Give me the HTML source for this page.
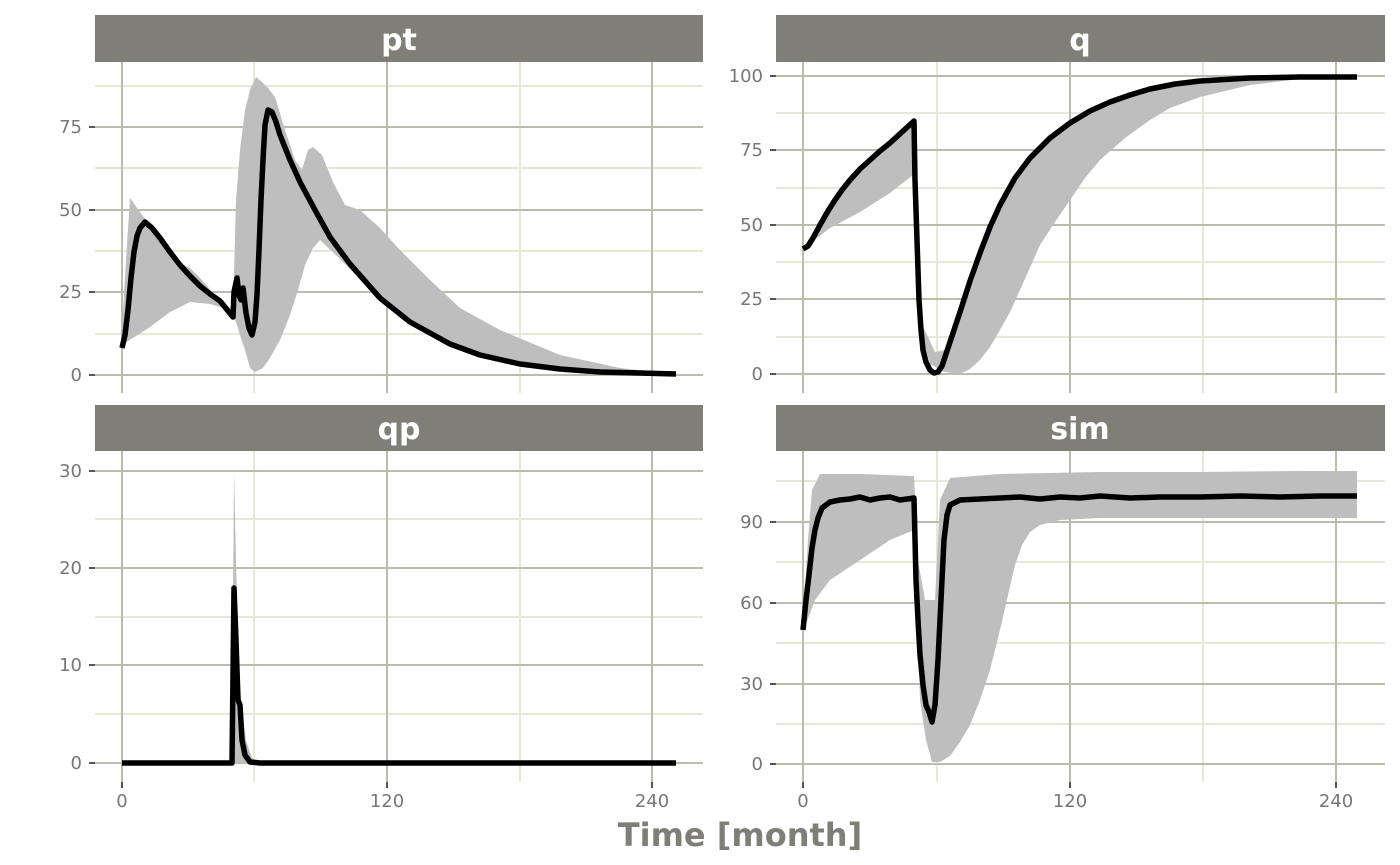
<!DOCTYPE html>
<html><head><style>body{margin:0;background:#fff}svg{display:block}</style></head><body>
<svg width="1400" height="865" xmlns="http://www.w3.org/2000/svg" font-family="DejaVu Sans, Liberation Sans, sans-serif">
<!-- PANEL pt -->
<g>
<g stroke="#e6e8d8" stroke-width="2">
<line x1="95" x2="703" y1="334" y2="334"/><line x1="95" x2="703" y1="251" y2="251"/><line x1="95" x2="703" y1="168" y2="168"/><line x1="95" x2="703" y1="86" y2="86"/>
<line x1="254" x2="254" y1="62" y2="393"/><line x1="520" x2="520" y1="62" y2="393"/>
</g>
<g stroke="#bcbcae" stroke-width="2">
<line x1="95" x2="703" y1="375" y2="375"/><line x1="95" x2="703" y1="292" y2="292"/><line x1="95" x2="703" y1="210" y2="210"/><line x1="95" x2="703" y1="127" y2="127"/>
<line x1="122" x2="122" y1="62" y2="393"/><line x1="387" x2="387" y1="62" y2="393"/><line x1="652" x2="652" y1="62" y2="393"/>
</g>
<g stroke="#555" stroke-width="2"><line x1="89" x2="95" y1="375" y2="375"/><line x1="89" x2="95" y1="292" y2="292"/><line x1="89" x2="95" y1="210" y2="210"/><line x1="89" x2="95" y1="127" y2="127"/></g>
<path fill="#bebebe" d="M122,330 L126,260 L130,198 L140,212 L150,226 L160,238 L170,252 L180,263 L190,268 L200,278 L215,295 L233,312 L236,200 L240,150 L245,110 L250,90 L256,77 L262,82 L268,88 L275,97 L285,130 L295,160 L302,170 L308,150 L313,147 L322,155 L333,182 L345,205 L360,210 L380,228 L400,250 L430,280 L460,308 L500,330 L560,355 L620,368 L676,374 L676,375 L600,373 L500,361 L450,345 L410,322 L380,299 L340,259 L320,240 L313,248 L305,265 L298,290 L290,315 L280,340 L270,358 L263,368 L255,372 L250,368 L245,350 L240,335 L236,322 L230,310 L210,304 L190,302 L170,312 L150,327 L125,343 Z"/>
<path fill="none" stroke="#000" stroke-width="5.5" stroke-linejoin="round" d="M122,348 L125,335 L128,310 L131,278 L134,252 L137,236 L140,228 L145,222 L152,228 L160,238 L170,252 L180,265 L190,276 L200,286 L210,294 L220,301 L233,317 L234,292 L237,278 L239,295 L241,300 L243,288 L246,313 L249,328 L252,335 L255,322 L257,295 L259,250 L261,200 L263,160 L265,125 L268,110 L272,112 L276,122 L280,135 L290,160 L300,182 L315,210 L330,237 L350,264 L380,298 L410,322 L450,344 L480,355 L520,364 L560,369 L600,372 L640,373 L676,374"/>
<g fill="#777" font-size="18" text-anchor="end"><text x="82" y="381">0</text><text x="82" y="298">25</text><text x="82" y="216">50</text><text x="82" y="133">75</text></g>
<rect x="95" y="15" width="608" height="47" fill="#807f77"/>
<text x="399" y="50" fill="#fff" font-size="30" font-weight="bold" text-anchor="middle">pt</text>
</g>
<!-- PANEL q -->
<g>
<g stroke="#e6e8d8" stroke-width="2">
<line x1="776" x2="1385" y1="337" y2="337"/><line x1="776" x2="1385" y1="262" y2="262"/><line x1="776" x2="1385" y1="188" y2="188"/><line x1="776" x2="1385" y1="113" y2="113"/>
<line x1="937" x2="937" y1="62" y2="393"/><line x1="1203" x2="1203" y1="62" y2="393"/>
</g>
<g stroke="#bcbcae" stroke-width="2">
<line x1="776" x2="1385" y1="374" y2="374"/><line x1="776" x2="1385" y1="299" y2="299"/><line x1="776" x2="1385" y1="225" y2="225"/><line x1="776" x2="1385" y1="150" y2="150"/><line x1="776" x2="1385" y1="76" y2="76"/>
<line x1="803" x2="803" y1="62" y2="393"/><line x1="1070" x2="1070" y1="62" y2="393"/><line x1="1336" x2="1336" y1="62" y2="393"/>
</g>
<g stroke="#555" stroke-width="2"><line x1="770" x2="776" y1="374" y2="374"/><line x1="770" x2="776" y1="299" y2="299"/><line x1="770" x2="776" y1="225" y2="225"/><line x1="770" x2="776" y1="150" y2="150"/><line x1="770" x2="776" y1="76" y2="76"/></g>
<path fill="#bebebe" d="M803,249 L810,243 L820,225 L835,200 L850,180 L870,160 L890,143 L914,121 L915,180 L917,240 L920,320 L935,352 L945,350 L960,310 L980,250 L1000,200 L1030,155 L1070,122 L1110,100 L1150,88 L1200,80 L1250,78 L1300,77 L1357,77 L1300,79 L1250,85 L1200,97 L1170,108 L1150,120 L1125,138 L1100,160 L1085,178 L1070,200 L1055,222 L1040,245 L1020,290 L1010,312 L1000,330 L990,347 L980,360 L970,369 L960,374 L945,372 L930,364 L920,330 L913,175 L890,193 L860,212 L830,228 Z"/>
<path fill="none" stroke="#000" stroke-width="5.5" stroke-linejoin="round" d="M803,249 L808,246 L813,238 L820,225 L828,211 L835,200 L842,190 L850,180 L860,169 L870,160 L880,151 L890,143 L902,132 L914,121 L915,180 L917,240 L919,300 L921,330 L923,350 L926,362 L930,370 L934,373 L938,372 L942,366 L946,354 L952,336 L960,312 L970,281 L980,253 L990,227 L1000,205 L1015,178 L1030,158 L1050,138 L1070,123 L1090,111 L1110,102 L1130,95 L1150,89 L1175,84 L1200,81 L1250,78 L1300,77 L1357,77"/>
<g fill="#777" font-size="18" text-anchor="end"><text x="763" y="380">0</text><text x="763" y="305">25</text><text x="763" y="231">50</text><text x="763" y="156">75</text><text x="763" y="82">100</text></g>
<rect x="776" y="15" width="609" height="47" fill="#807f77"/>
<text x="1080" y="50" fill="#fff" font-size="30" font-weight="bold" text-anchor="middle">q</text>
</g>
<!-- PANEL qp -->
<g>
<g stroke="#e6e8d8" stroke-width="2">
<line x1="95" x2="703" y1="714" y2="714"/><line x1="95" x2="703" y1="617" y2="617"/><line x1="95" x2="703" y1="519" y2="519"/>
<line x1="254" x2="254" y1="451" y2="782"/><line x1="520" x2="520" y1="451" y2="782"/>
</g>
<g stroke="#bcbcae" stroke-width="2">
<line x1="95" x2="703" y1="763" y2="763"/><line x1="95" x2="703" y1="665" y2="665"/><line x1="95" x2="703" y1="568" y2="568"/><line x1="95" x2="703" y1="471" y2="471"/>
<line x1="122" x2="122" y1="451" y2="782"/><line x1="387" x2="387" y1="451" y2="782"/><line x1="652" x2="652" y1="451" y2="782"/>
</g>
<g stroke="#555" stroke-width="2"><line x1="89" x2="95" y1="763" y2="763"/><line x1="89" x2="95" y1="665" y2="665"/><line x1="89" x2="95" y1="568" y2="568"/><line x1="89" x2="95" y1="471" y2="471"/></g>
<path fill="#bebebe" d="M232,763 L233,600 L234,470 L236,560 L238,640 L241,700 L246,740 L252,758 L260,763 Z"/>
<path fill="none" stroke="#000" stroke-width="5.5" stroke-linejoin="round" d="M122,763 L232,763 L234,588 L236,640 L238,700 L240,705 L242,740 L245,755 L250,762 L260,763 L676,763"/>
<g fill="#777" font-size="18" text-anchor="end"><text x="82" y="769">0</text><text x="82" y="671">10</text><text x="82" y="574">20</text><text x="82" y="477">30</text></g>
<rect x="95" y="405" width="608" height="46" fill="#807f77"/>
<text x="399" y="439" fill="#fff" font-size="30" font-weight="bold" text-anchor="middle">qp</text>
<g fill="#777" font-size="18" text-anchor="middle"><text x="122" y="807">0</text><text x="387" y="807">120</text><text x="652" y="807">240</text></g>
<g stroke="#555" stroke-width="2"><line x1="122" x2="122" y1="782" y2="788"/><line x1="387" x2="387" y1="782" y2="788"/><line x1="652" x2="652" y1="782" y2="788"/></g>
</g>
<!-- PANEL sim -->
<g>
<g stroke="#e6e8d8" stroke-width="2">
<line x1="776" x2="1385" y1="724" y2="724"/><line x1="776" x2="1385" y1="643" y2="643"/><line x1="776" x2="1385" y1="562" y2="562"/><line x1="776" x2="1385" y1="481" y2="481"/>
<line x1="937" x2="937" y1="451" y2="782"/><line x1="1203" x2="1203" y1="451" y2="782"/>
</g>
<g stroke="#bcbcae" stroke-width="2">
<line x1="776" x2="1385" y1="764" y2="764"/><line x1="776" x2="1385" y1="684" y2="684"/><line x1="776" x2="1385" y1="603" y2="603"/><line x1="776" x2="1385" y1="522" y2="522"/>
<line x1="803" x2="803" y1="451" y2="782"/><line x1="1070" x2="1070" y1="451" y2="782"/><line x1="1336" x2="1336" y1="451" y2="782"/>
</g>
<g stroke="#555" stroke-width="2"><line x1="770" x2="776" y1="764" y2="764"/><line x1="770" x2="776" y1="684" y2="684"/><line x1="770" x2="776" y1="603" y2="603"/><line x1="770" x2="776" y1="522" y2="522"/></g>
<path fill="#bebebe" d="M803,620 L808,540 L812,490 L820,474 L860,474 L914,476 L918,560 L925,600 L935,600 L940,500 L950,478 L1000,474 L1100,472 L1200,472 L1300,471 L1357,471 L1357,518 L1200,518 L1100,518 L1060,520 L1040,525 L1030,532 L1022,545 L1015,565 L1008,595 L1000,630 L990,670 L980,700 L970,725 L960,742 L950,756 L940,762 L932,762 L926,740 L920,700 L914,530 L890,540 L860,560 L830,580 L815,600 L803,632 Z"/>
<path fill="none" stroke="#000" stroke-width="5.5" stroke-linejoin="round" d="M803,630 L806,600 L809,575 L812,548 L815,530 L818,518 L822,508 L830,502 L840,500 L850,499 L860,497 L870,500 L880,498 L890,497 L900,500 L914,498 L916,580 L918,620 L920,655 L923,685 L926,705 L929,712 L932,722 L935,705 L938,660 L941,600 L944,540 L947,515 L950,505 L960,500 L980,499 L1000,498 L1020,497 L1040,499 L1060,497 L1080,498 L1100,496 L1130,498 L1160,497 L1200,497 L1240,496 L1280,497 L1320,496 L1357,496"/>
<g fill="#777" font-size="18" text-anchor="end"><text x="763" y="770">0</text><text x="763" y="690">30</text><text x="763" y="609">60</text><text x="763" y="528">90</text></g>
<rect x="776" y="405" width="609" height="46" fill="#807f77"/>
<text x="1080" y="439" fill="#fff" font-size="30" font-weight="bold" text-anchor="middle">sim</text>
<g fill="#777" font-size="18" text-anchor="middle"><text x="803" y="807">0</text><text x="1070" y="807">120</text><text x="1336" y="807">240</text></g>
<g stroke="#555" stroke-width="2"><line x1="803" x2="803" y1="782" y2="788"/><line x1="1070" x2="1070" y1="782" y2="788"/><line x1="1336" x2="1336" y1="782" y2="788"/></g>
</g>
<text x="740" y="846" fill="#807f77" font-size="32" font-weight="bold" text-anchor="middle">Time [month]</text>
</svg>
</body></html>
